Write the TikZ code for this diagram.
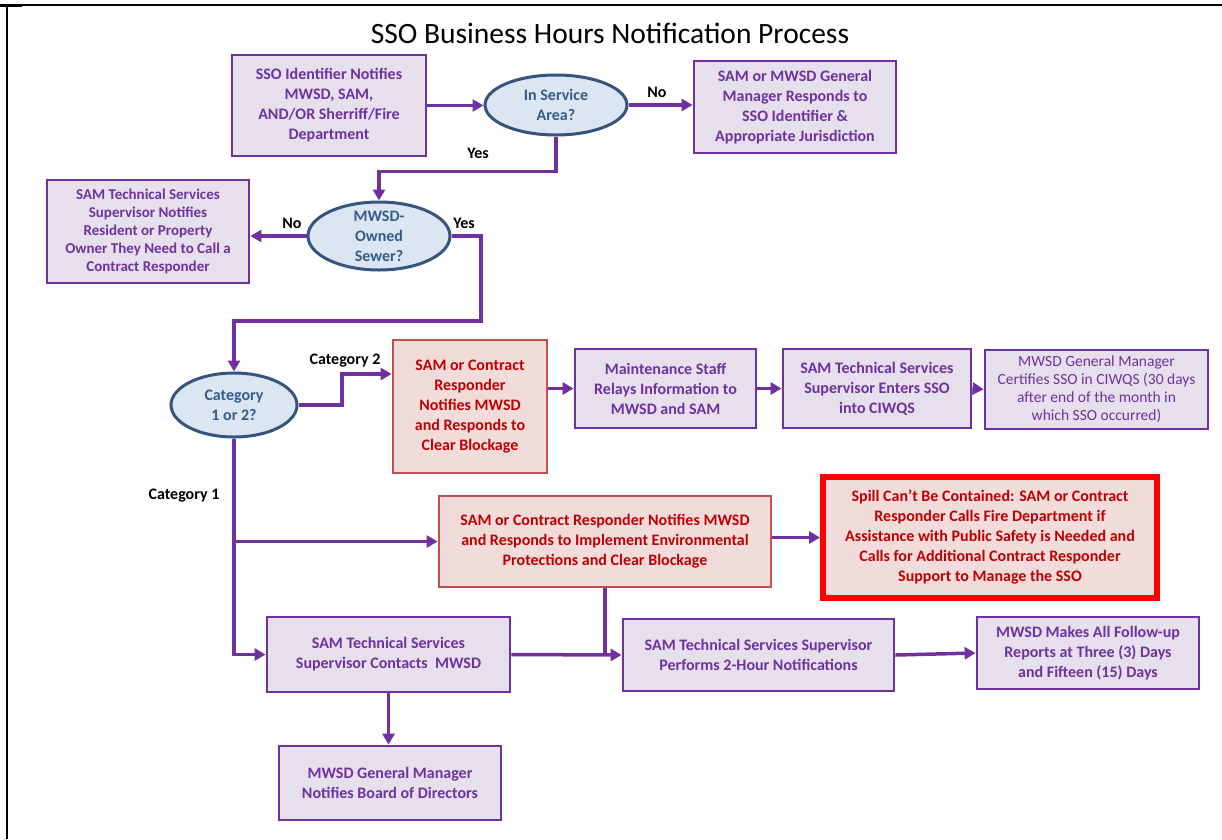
\documentclass[tikz,border=0pt]{standalone}
\usepackage{fontspec}
\setmainfont{Carlito}
\usetikzlibrary{shapes.geometric,arrows.meta}
\definecolor{pur}{HTML}{7030A0}
\definecolor{lav}{HTML}{E6E0EC}
\definecolor{ebl}{HTML}{DCE6F2}
\definecolor{ebd}{HTML}{34557F}
\definecolor{etx}{HTML}{335C8A}
\definecolor{rfill}{HTML}{F2DCDB}
\definecolor{rbord}{HTML}{C0504D}
\definecolor{rtext}{HTML}{C00000}
\definecolor{brred}{HTML}{FF0000}
\begin{document}
\begin{tikzpicture}[x=1pt,y=-1pt,
  pbox/.style={rectangle, draw=pur, line width=2.8pt, fill=lav, text=pur,
    font=\bfseries\fontsize{16}{20}\selectfont, align=center, inner sep=0pt},
  smalltext/.style={font=\bfseries\fontsize{15}{18}\selectfont},
  thintext/.style={font=\fontsize{15.5}{18}\selectfont},
  rbox/.style={pbox, draw=rbord, fill=rfill, text=rtext},
  alarm/.style={pbox, draw=brred, line width=6pt, fill=rfill, text=rtext},
  dec/.style={ellipse, draw=ebd, line width=3pt, fill=ebl, text=etx,
    font=\bfseries\fontsize{16}{20}\selectfont, align=center,
    inner xsep=0pt, inner ysep=-20pt},
  lbl/.style={font=\bfseries\fontsize{16}{20}\selectfont, text=black},
  conn/.style={draw=pur, line width=3.5pt},
  arr/.style={conn, -{Triangle[length=11pt,width=12pt]}},
]
\useasboundingbox (0,0) rectangle (1222,839);
% page frame
\draw[line width=1.5pt] (0,5) -- (1222,5);
\draw[line width=3pt] (0,5) -- (22,5);
\draw[line width=1.5pt] (7,5) -- (7,839);

\node[font=\fontsize{29.5}{35}\selectfont, anchor=base] (title) at (610,43)
  {SSO Business Hours Notification Process};

\node[pbox, minimum width=194pt, minimum height=101pt] (A) at (329,105.5)
  {SSO Identifier Notifies\\MWSD, SAM,\\AND/OR Sherriff/Fire\\Department};
\node[dec, minimum width=142pt, minimum height=60pt] (E1) at (556,105)
  {In Service\\Area?};
\node[pbox, minimum width=202pt, minimum height=92pt] (B) at (795,107)
  {SAM or MWSD General\\Manager Responds to\\SSO Identifier \&\\Appropriate Jurisdiction};
\node[pbox, smalltext, minimum width=202pt, minimum height=103pt] (C) at (148,231.5)
  {SAM Technical Services\\Supervisor Notifies\\Resident or Property\\Owner They Need to Call a\\Contract Responder};
\node[dec, minimum width=142pt, minimum height=68pt] (E2) at (379,236)
  {MWSD-\\Owned\\Sewer?};
\node[dec, minimum width=126pt, minimum height=64pt] (E3) at (234,405)
  {Category\\1 or 2?};
\node[rbox, minimum width=154pt, minimum height=133pt] (D) at (470,406.5)
  {SAM or Contract\\Responder\\Notifies MWSD\\and Responds to\\Clear Blockage};
\node[pbox, minimum width=181pt, minimum height=79pt] (E) at (665.5,388.5)
  {Maintenance Staff\\Relays Information to\\MWSD and SAM};
\node[pbox, minimum width=188pt, minimum height=79pt] (F) at (877,388.5)
  {SAM Technical Services\\Supervisor Enters SSO\\into CIWQS};
\node[pbox, thintext, minimum width=223pt, minimum height=79pt] (G) at (1096.5,389.5)
  {MWSD General Manager\\Certifies SSO in CIWQS (30 days\\after end of the month in\\which SSO occurred)};
\node[rbox, minimum width=332pt, minimum height=91pt] (I) at (605,541.5)
  {SAM or Contract Responder Notifies MWSD\\and Responds to Implement Environmental\\Protections and Clear Blockage};
\node[alarm, minimum width=334pt, minimum height=121pt] (J) at (990,537.5)
  {Spill Can’t Be Contained: SAM or Contract\\Responder Calls Fire Department if\\Assistance with Public Safety is Needed and\\Calls for Additional Contract Responder\\Support to Manage the SSO};
\node[pbox, minimum width=243pt, minimum height=75pt] (H) at (388.5,654.5)
  {SAM Technical Services\\Supervisor Contacts~ MWSD};
\node[pbox, minimum width=271pt, minimum height=72pt] (K) at (758.5,655)
  {SAM Technical Services Supervisor\\Performs 2-Hour Notifications};
\node[pbox, minimum width=222pt, minimum height=72pt] (L) at (1088,653)
  {MWSD Makes All Follow-up\\Reports at Three (3) Days\\and Fifteen (15) Days};
\node[pbox, minimum width=222pt, minimum height=74pt] (M) at (390,783)
  {MWSD General Manager\\Notifies Board of Directors};

% labels
\node[lbl] (no1) at (657,92) {No};
\node[lbl] (yes1) at (478,153) {Yes};
\node[lbl] (no2) at (292,223) {No};
\node[lbl] (yes2) at (464,223) {Yes};
\node[lbl] (cat2) at (345,361) {Category 2};
\node[lbl] (cat1) at (184,496) {Category 1};

% junction coordinates
\coordinate (j1) at (481,321);
\coordinate (j2) at (342,374);

% connectors
\draw[arr] (A.east) -- (A.east -| E1.west);
\draw[arr] (E1.east) -- (E1.east -| B.west);
\draw[arr] (E1.south) -- ++(0,35) -| (E2.north);
\draw[arr] (E2.west) -- (E2.west -| C.east);
\draw[arr] (E2.east) -| (j1) -| (E3.north);
\draw[arr] (E3.east) -| (j2) -- (j2 -| D.west);
\draw[arr] (E.west -| D.east) -- (E.west);
\draw[arr] (E.east) -- (F.west);
\draw[arr] (F.east) -- (G.west);
\draw[arr] (E3.south) |- (H.west);
\draw[arr] (E3.south |- I.west) -- (I.west);
\draw[arr] (J.west -| I.east) -- (J.west);
\draw[arr] (H.east) -- (K.west);
\draw[conn] (I.south) -- (I.south |- K.west);
\draw[arr] (K.east) -- (L.west);
\draw[arr] (H.south) -- (H.south |- M.north);
\end{tikzpicture}
\end{document}
